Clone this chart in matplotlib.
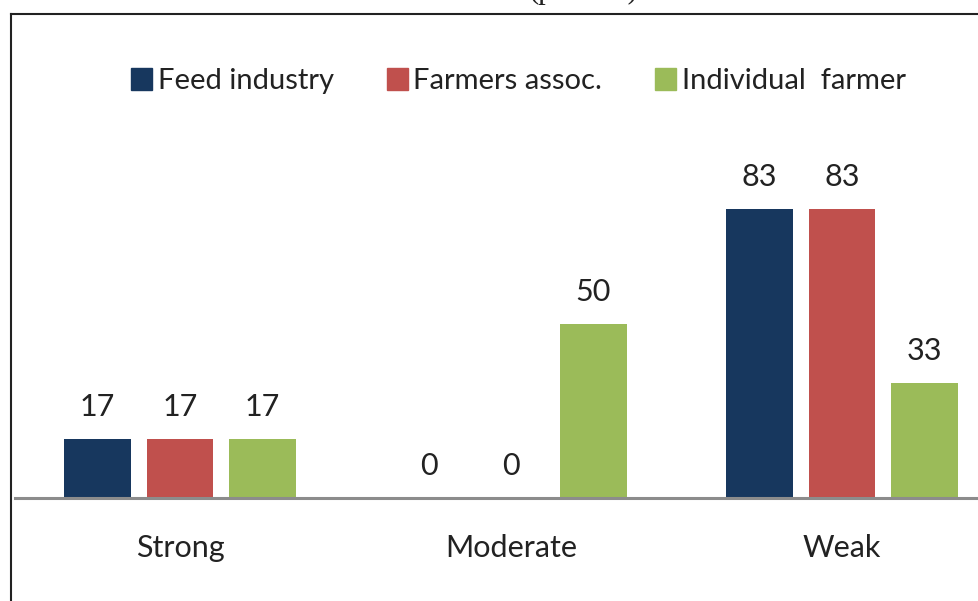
import numpy as np
import matplotlib
matplotlib.use("Agg")
import matplotlib.pyplot as plt
from matplotlib.patches import Rectangle
from matplotlib.lines import Line2D

categories = ["Strong", "Moderate", "Weak"]
series_names = ["Feed industry", "Farmers assoc.", "Individual  farmer"]
feed_industry = [17, 0, 83]
farmers_assoc = [17, 0, 83]
individual_farmer = [17, 50, 33]
colors = ["#17375E", "#C0504D", "#9BBB59"]

plt.rcParams["font.family"] = ["Lato", "DejaVu Sans"]

W, H = 979, 601
fig = plt.figure(figsize=(W / 100, H / 100), dpi=100)

# plot area runs past the right edge (the source image is cropped)
x0, x1 = 14.5, 1007.5
base = 498
ax = fig.add_axes([x0 / W, (H - base) / H, (x1 - x0) / W, 348 / H])

x = np.arange(len(categories))
width = 0.2
step = 0.249
for i, (vals, col) in enumerate(zip([feed_industry, farmers_assoc, individual_farmer], colors)):
    pos = x + (i - 1) * step
    ax.bar(pos, vals, width, color=col, zorder=2)
    for p, v in zip(pos, vals):
        ax.annotate(str(v), (p, v), xytext=(0, 16.5), textcoords="offset points",
                    ha="center", va="baseline", fontsize=22, color="#222222")

ax.set_xlim(-0.5, 2.5)
ax.set_ylim(0, 100)
ax.set_yticks([])
ax.set_xticks(x)
ax.set_xticklabels(categories, fontsize=22, color="#222222")
ax.tick_params(axis="x", length=0, pad=42.5)
for lab in ax.get_xticklabels():
    lab.set_verticalalignment("baseline")
for s in ["top", "left", "right"]:
    ax.spines[s].set_visible(False)
ax.spines["bottom"].set_color("#8c8c8c")
ax.spines["bottom"].set_linewidth(2.2)
ax.patch.set_alpha(0)

handles = [Rectangle((0, 0), 1, 1, color=c) for c in colors]
fig.legend(handles, series_names, loc="center left", bbox_to_anchor=(105 / W, 1 - 81 / H),
           ncol=3, frameon=False, fontsize=21, handlelength=0.72, handleheight=0.75,
           handletextpad=0.2, columnspacing=1.8, labelcolor="#222222")

# chart frame, cropped at right and bottom
fig.add_artist(Line2D([11 / W, 1.0], [1 - 14 / H, 1 - 14 / H], color="#222222", lw=1.5))
fig.add_artist(Line2D([11 / W, 11 / W], [0, 1 - 14 / H], color="#222222", lw=1.5))

# title mostly cut off above the image, as in the source
fig.text(583 / W, 1 + 2 / H, "(percent)", family="Liberation Serif", fontsize=22,
         ha="center", va="baseline", color="#222222")

fig.savefig("out.png", dpi=100)
